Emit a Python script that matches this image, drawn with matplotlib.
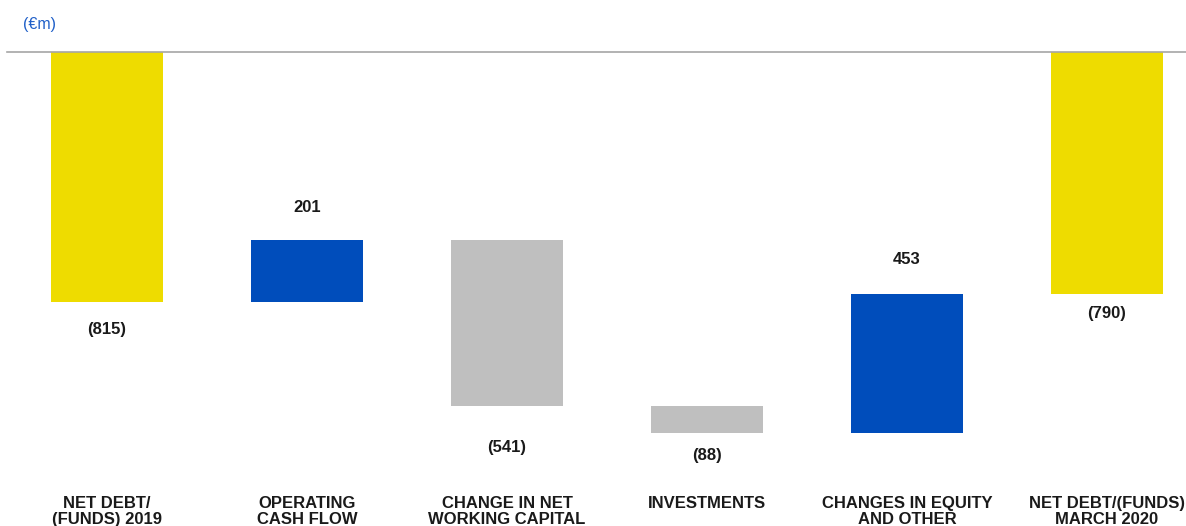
import matplotlib.pyplot as plt

plt.rcParams['font.family'] = ['Liberation Sans', 'DejaVu Sans']

# data (€m)
categories = ["NET DEBT/\n(FUNDS) 2019", "OPERATING\nCASH FLOW", "CHANGE IN NET\nWORKING CAPITAL",
              "INVESTMENTS", "CHANGES IN EQUITY\nAND OTHER", "NET DEBT/(FUNDS)\nMARCH 2020"]
values = [-815, 201, -541, -88, 453, -790]
labels = ["(815)", "201", "(541)", "(88)", "453", "(790)"]
is_total = [True, False, False, False, False, True]

YELLOW = "#EEDC00"
BLUE = "#004DBB"
GREY = "#BFBFBF"

fig = plt.figure(figsize=(11.86, 5.26), dpi=100)
ax = fig.add_axes([0, 0, 1, 1])

# label offsets in pixels from the bar edge
offsets = [27, 33, 41, 22, 35, 19]

running = 0
for i, (v, tot) in enumerate(zip(values, is_total)):
    if tot:
        bottom, height = 0, v
        color = YELLOW
        running = v
    else:
        bottom, height = running, v
        color = BLUE if v > 0 else GREY
        running += v
    ax.bar(i, height, bottom=bottom, width=0.56, color=color, zorder=2)
    top = max(bottom, bottom + height)
    low = min(bottom, bottom + height)
    if v > 0 and not tot:
        ax.annotate(labels[i], (i, top), xytext=(0, offsets[i] * 0.72), textcoords="offset points",
                    ha="center", va="center", fontsize=12, fontweight="bold", color="#1a1a1a")
    else:
        ax.annotate(labels[i], (i, low), xytext=(0, -offsets[i] * 0.72), textcoords="offset points",
                    ha="center", va="center", fontsize=12, fontweight="bold", color="#1a1a1a")

for i, c in enumerate(categories):
    ax.annotate(c, (i, -1545), xytext=(0, 30 * 0.72), textcoords="offset points",
                ha="center", va="top", fontsize=12, fontweight="bold", color="#1a1a1a",
                linespacing=1.1, annotation_clip=False)

ax.axhline(0, xmin=7 / 1186, xmax=1, color="#A6A6A6", lw=1.2, zorder=3)
ax.text(-0.42, 90, "(€m)", color="#1F5FC8", fontsize=11.5, ha="left", va="center")

ax.set_xlim(-0.535, 5.395)
ax.set_ylim(-1545, 169.5)
ax.axis("off")

fig.savefig("out.png", dpi=100)
